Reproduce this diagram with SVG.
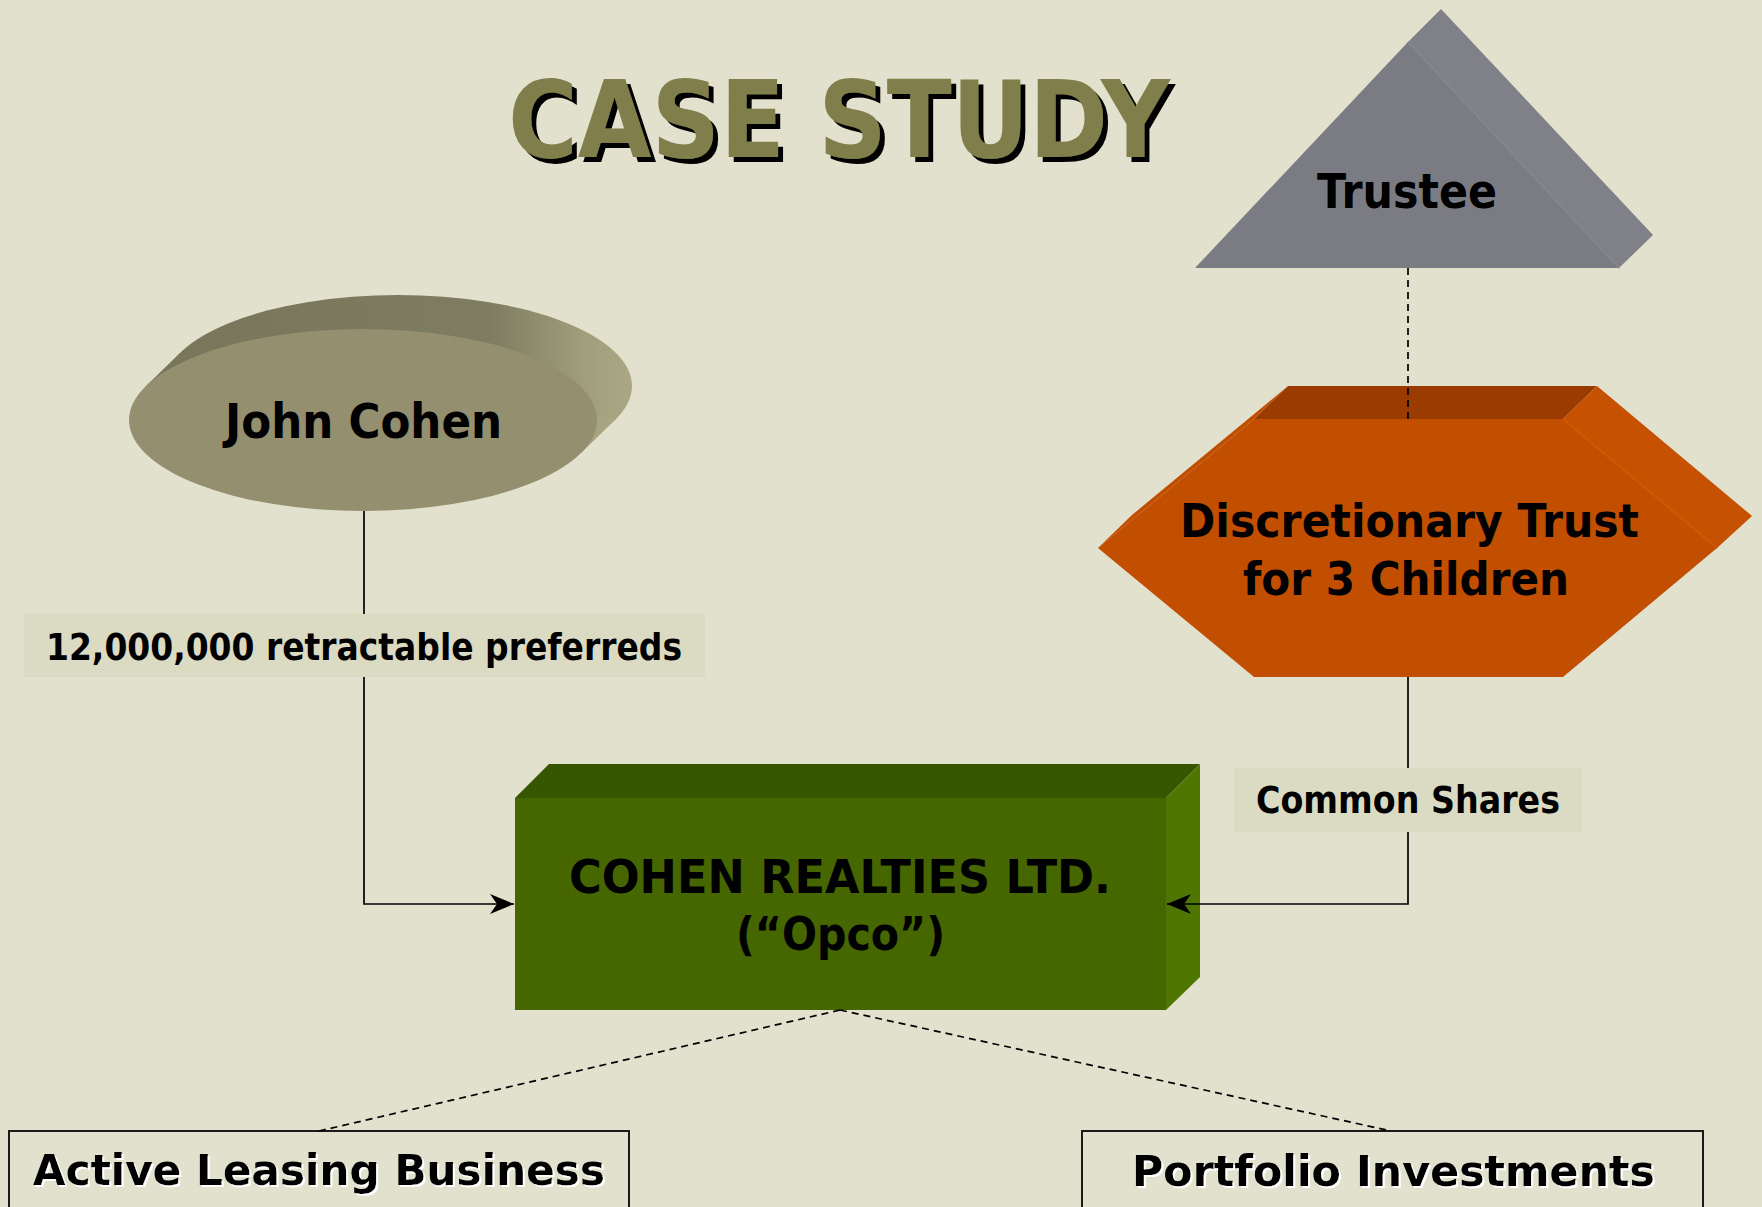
<svg xmlns="http://www.w3.org/2000/svg" width="1762" height="1207" viewBox="0 0 1762 1207">
<style>
.t{font-family:"DejaVu Sans","Liberation Sans",sans-serif;font-weight:bold;fill:#000}
.conn{fill:none;stroke:#000;stroke-width:1.7}
.dash{stroke-dasharray:7 5}
.lbl{fill:#dbdac3}
.box{fill:none;stroke:#1a1a1a;stroke-width:2}
</style>
<defs>
<linearGradient id="jcSide" x1="0" y1="0" x2="1" y2="0">
<stop offset="0" stop-color="#77765a"/>
<stop offset="0.7" stop-color="#7f7d61"/>
<stop offset="0.9" stop-color="#a19e7c"/>
<stop offset="1" stop-color="#aaa784"/>
</linearGradient>
<filter id="shadow" x="-5%" y="-10%" width="115%" height="130%">
<feOffset in="SourceAlpha" dx="5" dy="5" result="s"/>
<feMerge><feMergeNode in="s"/><feMergeNode in="SourceGraphic"/></feMerge>
</filter>
<filter id="halo" x="-5%" y="-10%" width="115%" height="130%">
<feOffset in="SourceAlpha" dx="2" dy="2" result="o"/>
<feFlood flood-color="#ffffff"/>
<feComposite in2="o" operator="in" result="w"/>
<feMerge><feMergeNode in="w"/><feMergeNode in="SourceGraphic"/></feMerge>
</filter>
<marker id="arr" markerUnits="userSpaceOnUse" markerWidth="26" markerHeight="24" refX="24" refY="12" orient="auto">
<path d="M0,2 L24,12 L0,22 L7,12 Z" fill="#000"/>
</marker>
</defs>
<rect width="1762" height="1207" fill="#e2e1cd"/>

<g id="title">
<text class="t" x="508" y="157" font-size="107" textLength="662" lengthAdjust="spacingAndGlyphs" style="fill:#807e4c" filter="url(#shadow)">CASE STUDY</text>
</g>

<g id="trustee">
<polygon points="1408,42 1441,9 1653,235 1619,268" fill="#808188"/>
<polygon points="1195,268 1408,42 1619,268" fill="#7b7c83"/>
<line x1="1408" y1="42" x2="1619" y2="268" stroke="#85868d" stroke-width="2"/>
<text class="t" x="1317" y="208" font-size="48" textLength="180" lengthAdjust="spacingAndGlyphs">Trustee</text>
</g>

<g id="john-cohen">
<ellipse cx="398" cy="386" rx="234" ry="91" fill="url(#jcSide)"/>
<polygon points="145,387 180,353 616,419 581,453" fill="url(#jcSide)"/>
<ellipse cx="363" cy="420" rx="234" ry="91" fill="#938f6f"/>
<text class="t" x="225" y="438" font-size="48" textLength="277" lengthAdjust="spacingAndGlyphs">John Cohen</text>
</g>

<g id="trust">
<polygon points="1254,419 1288,386 1597,386 1563,419" fill="#9a3c00"/>
<polygon points="1563,419 1597,386 1752,516 1717,548" fill="#c65100"/>
<polygon points="1098,548 1132,515 1288,386 1254,419" fill="#c04e00"/>
<polygon points="1098,548 1254,419 1563,419 1717,548 1563,677 1254,677" fill="#c24f00"/>
<line x1="1563" y1="419" x2="1717" y2="548" stroke="#d25800" stroke-width="2"/>
<text class="t" x="1180" y="537" font-size="47" textLength="459" lengthAdjust="spacingAndGlyphs">Discretionary Trust</text>
<text class="t" x="1243" y="595" font-size="47" textLength="326" lengthAdjust="spacingAndGlyphs">for 3 Children</text>
</g>

<g id="opco">
<polygon points="515,798 549,764 1200,764 1166,798" fill="#385500"/>
<polygon points="1166,798 1200,764 1200,977 1166,1010" fill="#4e7600"/>
<rect x="515" y="798" width="651" height="212" fill="#466600"/>
<text class="t" x="569" y="893" font-size="46" textLength="542" lengthAdjust="spacingAndGlyphs">COHEN REALTIES LTD.</text>
<text class="t" x="736" y="950" font-size="46" textLength="209" lengthAdjust="spacingAndGlyphs">(“Opco”)</text>
</g>

<g id="active-leasing">
<rect class="box" x="9" y="1131" width="620" height="100"/>
<text class="t" x="33" y="1185" font-size="43" textLength="572" lengthAdjust="spacingAndGlyphs" filter="url(#halo)">Active Leasing Business</text>
</g>

<g id="portfolio">
<rect class="box" x="1082" y="1131" width="621" height="100"/>
<text class="t" x="1132" y="1186" font-size="43" textLength="523" lengthAdjust="spacingAndGlyphs" filter="url(#halo)">Portfolio Investments</text>
</g>

<g id="connectors">
<path class="conn dash" d="M1408,268 V419"/>
<path class="conn" d="M364,511 V904 H514" marker-end="url(#arr)"/>
<path class="conn" d="M1408,677 V904 H1167" marker-end="url(#arr)"/>
<path class="conn dash" d="M840,1010 L319,1131"/>
<path class="conn dash" d="M840,1010 L1391,1131"/>
</g>

<g id="label-preferreds">
<rect class="lbl" x="24" y="614" width="681" height="63"/>
<text class="t" x="46" y="660" font-size="38" textLength="636" lengthAdjust="spacingAndGlyphs">12,000,000 retractable preferreds</text>
</g>

<g id="label-common">
<rect class="lbl" x="1234" y="768" width="348" height="64"/>
<text class="t" x="1256" y="813" font-size="37" textLength="304" lengthAdjust="spacingAndGlyphs">Common Shares</text>
</g>
</svg>
